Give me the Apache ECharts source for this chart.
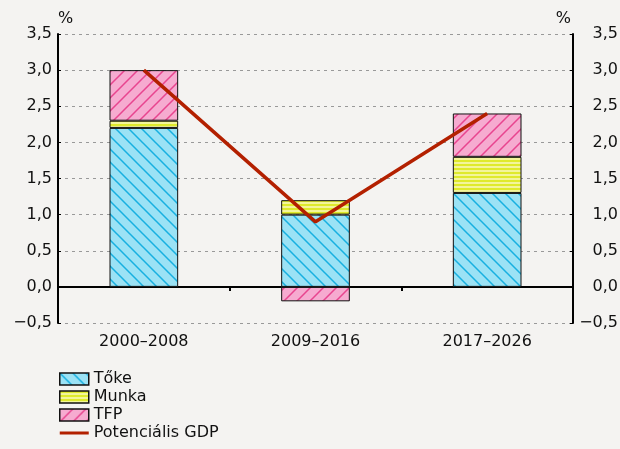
<!DOCTYPE html>
<html lang="hu">
<head>
<meta charset="UTF-8">
<title>Potenciális GDP</title>
<script src="https://cdn.jsdelivr.net/npm/echarts@6/dist/echarts.min.js"></script>
<style>
  html, body { margin: 0; padding: 0; background: #f4f3f1; }
</style>
</head>
<body>
<div id="main" style="width:620px;height:449px;"></div>
<script>
var categories = ['2000–2008', '2009–2016', '2017–2026'];
var toke = [2.2, 1.0, 1.3];
var munka = [0.1, 0.2, 0.5];
var tfp = [0.7, -0.2, 0.6];
var gdp = [3.0, 0.9, 2.4];

// hatched fills
function hatch(bg, fg, dir) {
  var s = 13, c = document.createElement('canvas');
  c.width = s; c.height = s;
  var g = c.getContext('2d');
  g.fillStyle = bg; g.fillRect(0, 0, s, s);
  g.strokeStyle = fg; g.lineWidth = 1.5;
  g.beginPath();
  if (dir > 0) { // "/"
    g.moveTo(-1, s + 1); g.lineTo(s + 1, -1);
    g.moveTo(-1, 1); g.lineTo(1, -1);
    g.moveTo(s - 1, s + 1); g.lineTo(s + 1, s - 1);
  } else { // "\"
    g.moveTo(-1, -1); g.lineTo(s + 1, s + 1);
    g.moveTo(s - 1, -1); g.lineTo(s + 1, 1);
    g.moveTo(-1, s - 1); g.lineTo(1, s + 1);
  }
  g.stroke();
  return { image: c, repeat: 'repeat' };
}
function stripes(bg, fg) {
  var c = document.createElement('canvas');
  c.width = 4; c.height = 4;
  var g = c.getContext('2d');
  g.fillStyle = bg; g.fillRect(0, 0, 4, 4);
  g.fillStyle = fg; g.fillRect(0, 2, 4, 2);
  return { image: c, repeat: 'repeat' };
}

var chart = echarts.init(document.getElementById('main'));
var font = 'DejaVu Sans';
var fs = 16;
var fmt = function (v) { return v.toFixed(1).replace('.', ',').replace('-', '−'); };

var yBase = {
  type: 'value', min: -0.5, max: 3.5, interval: 0.5,
  name: '%', nameGap: 7,
  axisLine: { show: true, lineStyle: { color: '#000', width: 2 } },
  axisTick: { show: true, inside: true, length: 3, lineStyle: { color: '#000' } }
};

chart.setOption({
  backgroundColor: '#f4f3f1',
  animation: false,
  textStyle: { fontFamily: font },
  grid: { left: 58, right: 47, top: 34, bottom: 126, outerBoundsMode: 'none' },
  legend: {
    orient: 'vertical', left: 59, top: 371, height: 80, padding: 0,
    itemWidth: 29, itemHeight: 12, itemGap: 2,
    textStyle: { fontSize: fs, color: '#111', fontFamily: font },
    itemStyle: { borderWidth: 1.5 },
    data: [
      { name: 'Tőke', icon: 'rect' },
      { name: 'Munka', icon: 'rect' },
      { name: 'TFP', icon: 'rect' },
      { name: 'Potenciális GDP', icon: 'path://M0,0H29V3H0Z' }
    ]
  },
  xAxis: [{
    type: 'category', data: categories,
    axisLine: { show: false, onZero: false },
    axisTick: { show: false },
    axisLabel: { color: '#111', fontSize: fs, fontFamily: font, margin: 11 }
  }, {
    type: 'category', data: categories, position: 'bottom',
    axisLine: { show: true, onZero: true, lineStyle: { color: '#000', width: 2 } },
    axisTick: { show: true, length: 4, lineStyle: { color: '#000', width: 2 } },
    axisLabel: { show: false }
  }],
  yAxis: [
    Object.assign({}, yBase, {
      position: 'left',
      nameTextStyle: { color: '#111', fontSize: fs, fontFamily: font, align: 'left', padding: [0, 0, 0, 0] },
      axisLabel: { color: '#111', fontSize: fs, fontFamily: font, formatter: fmt, margin: 6 },
      splitLine: { show: true, lineStyle: { color: '#999', type: [3, 4], width: 1 } }
    }),
    Object.assign({}, yBase, {
      position: 'right',
      nameTextStyle: { color: '#111', fontSize: fs, fontFamily: font, align: 'right', padding: [0, 2, 0, 0] },
      axisLabel: { color: '#111', fontSize: fs, fontFamily: font, formatter: fmt, margin: 45, align: 'right' },
      splitLine: { show: false }
    })
  ],
  series: [
    { name: 'Tőke', type: 'bar', stack: 'a', data: toke, barWidth: '40%',
      itemStyle: { color: hatch('#9be2f5', '#18b0e0', -1), borderColor: '#111', borderWidth: 1 } },
    { name: 'Munka', type: 'bar', stack: 'a', data: munka,
      itemStyle: { color: stripes('#dfea2c', '#f3f59a'), borderColor: '#111', borderWidth: 1 } },
    { name: 'TFP', type: 'bar', stack: 'a', data: tfp,
      itemStyle: { color: hatch('#f6abd0', '#e8458f', 1), borderColor: '#111', borderWidth: 1 } },
    { name: 'Potenciális GDP', type: 'line', data: gdp, symbol: 'none', z: 5,
      lineStyle: { color: '#b32000', width: 3.5 }, itemStyle: { color: '#b32000' } }
  ]
});
</script>
</body>
</html>
